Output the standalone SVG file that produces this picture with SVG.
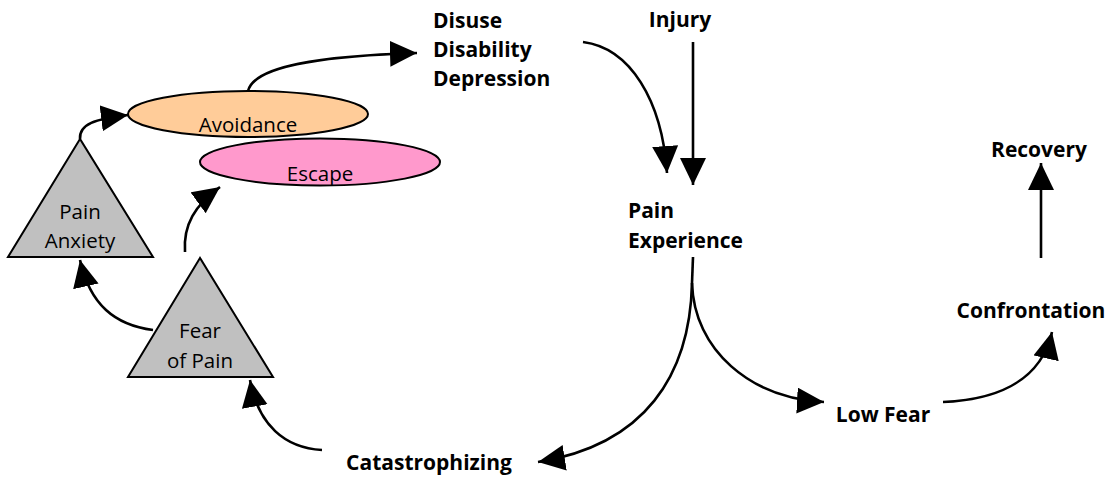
<svg xmlns="http://www.w3.org/2000/svg" width="1107" height="482" viewBox="0 0 1107 482">
  <style>
    .lbl { font-family: "Open Sans", "Liberation Sans", sans-serif; font-size: 21px; font-weight: bold; fill: #000; }
    .in { font-family: "Open Sans", "Liberation Sans", sans-serif; font-size: 20.5px; fill: #000; text-anchor: middle; }
    .tri { fill: #c0c0c0; stroke: #000; stroke-width: 2; stroke-linejoin: miter; }
    .ell { stroke: #000; stroke-width: 2; }
    .conn { fill: none; stroke: #000; stroke-width: 2.6; marker-end: url(#head); }
    .plain { fill: none; stroke: #000; stroke-width: 2.6; }
  </style>
  <defs>
    <marker id="head" markerUnits="userSpaceOnUse" markerWidth="28" markerHeight="27" refX="27" refY="13" orient="auto">
      <path d="M0,0 L27,13 L0,26 z" fill="#000"/>
    </marker>
  </defs>
  <rect width="1107" height="482" fill="#fff"/>

  <!-- connectors -->
  <g id="connectors">
    <path class="conn" d="M80,139 C79,124 95,119 128,115"/>
    <path class="conn" d="M248,91 C254,66 320,56 417,53"/>
    <path class="conn" d="M583,42 C630,48 662,100 667,173"/>
    <path class="conn" d="M693,42 L693,185"/>
    <path class="plain" d="M693,257 L692,283"/>
    <path class="conn" d="M692,283 C694,350 750,398 824,402"/>
    <path class="conn" d="M692,283 C690,375 645,445 538,462"/>
    <path class="conn" d="M943,402 C990,400 1040,385 1052,332"/>
    <path class="conn" d="M1041,258 L1041,163"/>
    <path class="conn" d="M322,450 C285,448 258,425 250,380"/>
    <path class="conn" d="M153,330 C115,325 90,305 80,260"/>
    <path class="conn" d="M185,252 C183,225 195,205 220,187"/>
  </g>

  <g id="avoidance">
    <ellipse class="ell" cx="248" cy="114" rx="120" ry="23" fill="#ffcc99"/>
    <text class="in" x="248" y="132">Avoidance</text>
  </g>
  <g id="escape">
    <ellipse class="ell" cx="320" cy="162" rx="120" ry="23.5" fill="#ff99cc"/>
    <text class="in" x="320" y="181">Escape</text>
  </g>
  <g id="pain-anxiety">
    <polygon class="tri" points="80,139 8,257 153,257"/>
    <text class="in" x="80" y="219">Pain</text>
    <text class="in" x="80" y="248">Anxiety</text>
  </g>
  <g id="fear-of-pain">
    <polygon class="tri" points="200,258 128,377 273,377"/>
    <text class="in" x="200" y="338">Fear</text>
    <text class="in" x="200" y="368">of Pain</text>
  </g>
  <g id="disuse">
    <text class="lbl" x="433" y="28">Disuse</text>
    <text class="lbl" x="433" y="57">Disability</text>
    <text class="lbl" x="433" y="86">Depression</text>
  </g>
  <g id="injury">
    <text class="lbl" x="680" y="27" text-anchor="middle">Injury</text>
  </g>
  <g id="pain-experience">
    <text class="lbl" x="628" y="218">Pain</text>
    <text class="lbl" x="628" y="248">Experience</text>
  </g>
  <g id="catastrophizing">
    <text class="lbl" x="429" y="470" text-anchor="middle">Catastrophizing</text>
  </g>
  <g id="low-fear">
    <text class="lbl" x="883" y="422" text-anchor="middle">Low Fear</text>
  </g>
  <g id="confrontation">
    <text class="lbl" x="1031" y="318" text-anchor="middle">Confrontation</text>
  </g>
  <g id="recovery">
    <text class="lbl" x="1039" y="157" text-anchor="middle">Recovery</text>
  </g>
</svg>
